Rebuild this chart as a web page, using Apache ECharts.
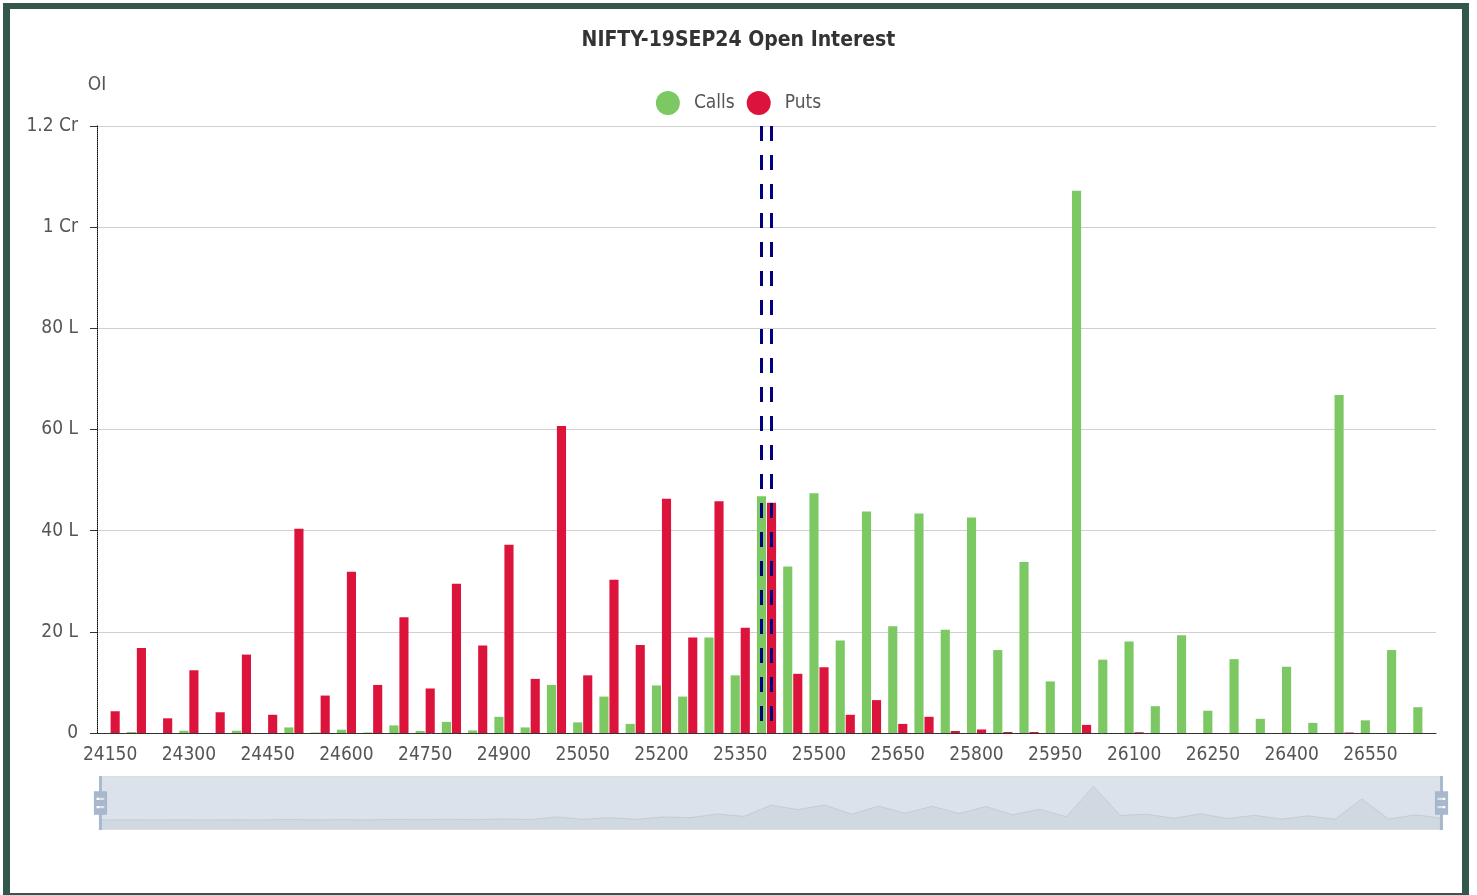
<!DOCTYPE html>
<html>
<head>
<meta charset="utf-8">
<script src="https://cdn.jsdelivr.net/npm/echarts@6/dist/echarts.min.js"></script>
<style>
  html, body { margin: 0; padding: 0; background: #fff; overflow: hidden; }
  #chart { position: absolute; left: 0; top: 0; width: 1477px; height: 895px; }
  #frame { position: absolute; left: 3px; top: 3px; width: 1466px; height: 897px;
           box-sizing: border-box; border: 7px solid #33574a; border-top-width: 6px; pointer-events: none; }
</style>
</head>
<body>
<div id="chart"></div>
<div id="frame"></div>
<script>
const strikes = ['24150','24200','24250','24300','24350','24400','24450','24500','24550','24600',
  '24650','24700','24750','24800','24850','24900','24950','25000','25050','25100',
  '25150','25200','25250','25300','25350','25400','25450','25500','25550','25600',
  '25650','25700','25750','25800','25850','25900','25950','26000','26050','26100',
  '26150','26200','26250','26300','26350','26400','26450','26500','26550','26600','26650'];

// Open interest in lakhs
const callsOI = [0, 0.2, 0, 0.45, 0, 0.45, 0, 1.1, 0.1, 0.65,
  0.1, 1.5, 0.4, 2.2, 0.5, 3.2, 1.1, 9.5, 2.1, 7.2,
  1.8, 9.4, 7.2, 18.9, 11.4, 46.8, 32.9, 47.4, 18.3, 43.8,
  21.1, 43.4, 20.4, 42.6, 16.4, 33.8, 10.2, 107.2, 14.5, 18.1,
  5.3, 19.3, 4.4, 14.6, 2.8, 13.1, 2.0, 66.8, 2.5, 16.4, 5.1];

const putsOI = [4.3, 16.8, 2.9, 12.4, 4.1, 15.5, 3.6, 40.4, 7.4, 31.9,
  9.5, 22.9, 8.8, 29.5, 17.3, 37.2, 10.7, 60.7, 11.4, 30.3,
  17.4, 46.3, 18.9, 45.8, 20.8, 45.5, 11.7, 13.0, 3.6, 6.5,
  1.8, 3.2, 0.4, 0.7, 0.2, 0.2, 0, 1.6, 0, 0.15,
  0, 0, 0, 0, 0, 0, 0, 0.1, 0, 0, 0];

const atmStrike = '25400';
const yTicks = { max: 120, interval: 20 };

const FONT = "'DejaVu Sans Condensed', 'Liberation Sans', sans-serif";

function fmtOI(v) {
  if (v === 0) return '0';
  if (v >= 100) return (v / 100) + ' Cr';
  return v + ' L';
}

const chart = echarts.init(document.getElementById('chart'), null, { renderer: 'canvas' });

const markLine = {
  symbol: 'none',
  silent: true,
  label: { show: false },
  lineStyle: { color: '#000080', width: 3, type: [15, 14], dashOffset: 17 },
  data: [{ xAxis: atmStrike }]
};

chart.setOption({
  animation: false,
  backgroundColor: '#fff',
  title: {
    text: 'NIFTY-19SEP24 Open Interest',
    left: 'center',
    top: 25,
    textStyle: { fontFamily: FONT, fontSize: 21, fontWeight: 'bold', color: '#333' }
  },
  legend: {
    top: 86,
    left: 'center',
    icon: 'circle',
    itemWidth: 24,
    itemHeight: 24,
    itemGap: 12,
    textStyle: { fontFamily: FONT, fontSize: 19, color: '#555', padding: [0, 0, 0, 9] },
    data: ['Calls', 'Puts']
  },
  grid: { left: 97, right: 41, top: 126, bottom: 162, containLabel: false },
  xAxis: {
    type: 'category',
    data: strikes,
    axisLine: { lineStyle: { color: '#333', width: 1 } },
    axisTick: { length: 6, lineStyle: { color: '#333' } },
    axisLabel: { interval: 2, margin: 13, fontFamily: FONT, fontSize: 19, color: '#555' },
    splitLine: { show: false }
  },
  yAxis: {
    type: 'value',
    min: 0,
    max: yTicks.max,
    interval: yTicks.interval,
    name: 'OI',
    nameLocation: 'end',
    nameGap: 31,
    nameTextStyle: { fontFamily: FONT, fontSize: 19, color: '#555', align: 'center' },
    axisLine: { show: true, lineStyle: { color: '#000', type: 'dotted', width: 1 } },
    axisTick: { show: true, length: 7, lineStyle: { color: '#333' } },
    axisLabel: { margin: 19, fontFamily: FONT, fontSize: 19, color: '#555', formatter: fmtOI },
    splitLine: { lineStyle: { color: '#d0d0d0' } }
  },
  dataZoom: [{
    type: 'slider',
    xAxisIndex: 0,
    start: 0,
    end: 100,
    left: 97,
    right: 37,
    top: 776,
    height: 54,
    showDetail: false,
    brushSelect: false,
    moveHandleSize: 0,
    backgroundColor: 'rgba(47,69,84,0)',
    borderColor: '#ddd',
    fillerColor: 'rgba(167,183,204,0.4)',
    handleIcon: 'M8.2,13.6V3.9H6.3v9.7H3.1v14.9h3.3v9.7h1.8v-9.7h3.3V13.6H8.2z M9.7,24.4H4.8v-1.4h4.9V24.4z M9.7,19.1H4.8v-1.4h4.9V19.1z',
    handleSize: '100%',
    handleStyle: { color: '#a7b7cc', borderWidth: 0 },
    dataBackground: {
      lineStyle: { color: '#2f4554', width: 0.5, opacity: 0.3 },
      areaStyle: { color: 'rgba(47,69,84,0.3)', opacity: 0.3 }
    },
    selectedDataBackground: {
      lineStyle: { color: '#2f4554', width: 0.5, opacity: 0.3 },
      areaStyle: { color: 'rgba(47,69,84,0.3)', opacity: 0.3 }
    },
    emphasis: { handleStyle: { color: '#a7b7cc', borderWidth: 0 } }
  }],
  series: [
    {
      name: 'Calls',
      type: 'bar',
      data: callsOI,
      itemStyle: { color: '#7cc863' },
      markLine: markLine
    },
    {
      name: 'Puts',
      type: 'bar',
      data: putsOI,
      itemStyle: { color: '#dc143c' },
      markLine: markLine
    }
  ]
});
</script>
</body>
</html>
